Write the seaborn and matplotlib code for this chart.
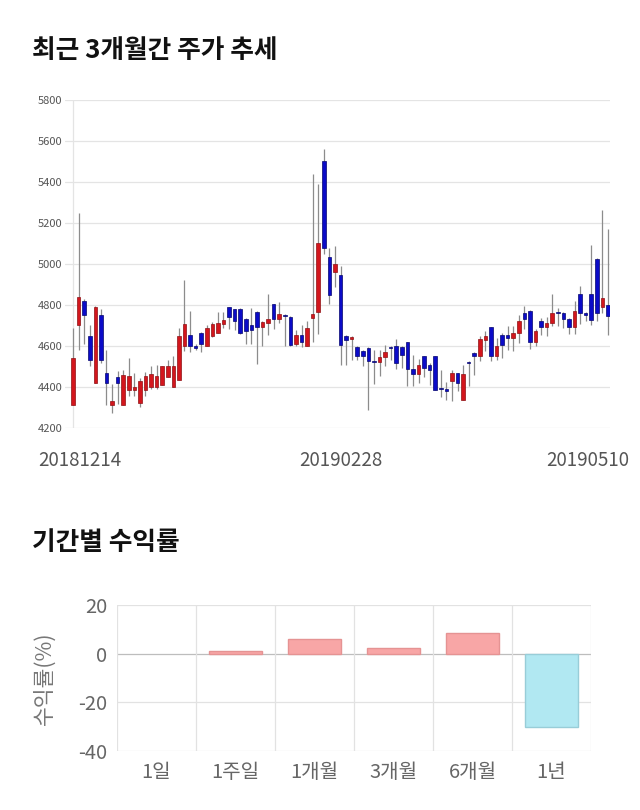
import numpy as np
import pandas as pd
import matplotlib
matplotlib.use("Agg")
import matplotlib.pyplot as plt
import seaborn as sns

# ---------------- data ----------------
opens = [4310, 4700, 4820, 4650, 4420, 4750, 4470, 4310, 4450, 4310,
         4385, 4385, 4320, 4385, 4400, 4400, 4410, 4450, 4400, 4435,
         4600, 4655, 4600, 4665, 4600, 4650, 4665, 4705, 4790, 4780,
         4780, 4730, 4700, 4765, 4695, 4712, 4805, 4730, 4753, 4740,
         4610, 4655, 4600, 4735, 4765, 5500, 5035, 4960, 4945, 4650,
         4632, 4595, 4575, 4592, 4527, 4520, 4548, 4595, 4600, 4595,
         4618, 4488, 4463, 4551, 4505, 4551, 4397, 4392, 4428, 4468,
         4338, 4522, 4566, 4553, 4631, 4694, 4553, 4654, 4654, 4637,
         4663, 4761, 4772, 4618, 4722, 4693, 4712, 4766, 4761, 4732,
         4693, 4854, 4761, 4854, 5024, 4789, 4802]
highs = [4690, 5250, 4830, 4700, 4795, 4780, 4580, 4415, 4480, 4485,
         4540, 4470, 4445, 4475, 4500, 4505, 4500, 4530, 4550, 4690,
         4920, 4770, 4610, 4670, 4700, 4715, 4765, 4765, 4790, 4780,
         4785, 4735, 4785, 4770, 4720, 4855, 4805, 4815, 4755, 4745,
         4680, 4700, 4720, 5440, 5390, 5560, 5080, 5090, 4990, 4655,
         4650, 4600, 4580, 4595, 4580, 4580, 4605, 4600, 4635, 4598,
         4620, 4555, 4535, 4553, 4517, 4553, 4485, 4425, 4485, 4470,
         4505, 4525, 4570, 4647, 4672, 4695, 4640, 4663, 4696, 4696,
         4753, 4793, 4775, 4683, 4737, 4740, 4854, 4785, 4765, 4735,
         4818, 4891, 4765, 5091, 5030, 5262, 5172]
lows = [4310, 4580, 4610, 4500, 4420, 4515, 4310, 4275, 4315, 4310,
        4355, 4355, 4300, 4355, 4390, 4390, 4410, 4450, 4400, 4435,
        4575, 4570, 4580, 4570, 4600, 4645, 4665, 4690, 4685, 4680,
        4660, 4610, 4610, 4510, 4600, 4655, 4685, 4710, 4600, 4600,
        4600, 4595, 4600, 4620, 4660, 5050, 4805, 4890, 4505, 4505,
        4530, 4530, 4500, 4290, 4415, 4455, 4500, 4530, 4490, 4495,
        4405, 4405, 4420, 4450, 4410, 4385, 4350, 4338, 4330, 4380,
        4338, 4405, 4460, 4525, 4574, 4525, 4533, 4541, 4582, 4574,
        4615, 4683, 4585, 4598, 4652, 4647, 4696, 4696, 4688, 4659,
        4659, 4707, 4720, 4704, 4720, 4761, 4655]
closes = [4540, 4840, 4750, 4530, 4790, 4530, 4420, 4330, 4420, 4460,
          4455, 4400, 4430, 4455, 4465, 4455, 4500, 4500, 4500, 4650,
          4705, 4600, 4590, 4610, 4690, 4705, 4710, 4725, 4740, 4720,
          4665, 4675, 4680, 4695, 4715, 4733, 4730, 4755, 4745, 4605,
          4655, 4620, 4686, 4755, 5100, 5080, 4850, 5000, 4605, 4630,
          4642, 4550, 4550, 4527, 4520, 4548, 4571, 4590, 4515, 4558,
          4488, 4463, 4507, 4493, 4483, 4387, 4390, 4379, 4468, 4420,
          4463, 4518, 4553, 4634, 4647, 4553, 4602, 4607, 4640, 4663,
          4724, 4732, 4618, 4675, 4693, 4712, 4761, 4762, 4732, 4693,
          4772, 4761, 4751, 4727, 4761, 4834, 4745]
date_labels = ["20181214", "20190228", "20190510"]
price_ticks = [4200, 4400, 4600, 4800, 5000, 5200, 5400, 5600, 5800]

periods = ["1일", "1주일", "1개월", "3개월", "6개월", "1년"]
returns = [0.0, 1.2, 6.0, 2.3, 8.4, -30.3]
return_ticks = [-40, -20, 0, 20]

# ---------------- style ----------------
sns.set_theme(style="white")
plt.rcParams["font.family"] = ["Noto Sans CJK KR", "DejaVu Sans"]

W, H = 640, 810
fig = plt.figure(figsize=(W / 100, H / 100), dpi=100)

# ---------------- candlestick chart ----------------
ax1 = fig.add_axes([65 / W, 1 - 428 / H, 545 / W, 328 / H])
df = pd.DataFrame({"open": opens, "high": highs, "low": lows, "close": closes})
df["x"] = np.arange(len(df))
df["up"] = df["close"] >= df["open"]
df["bottom"] = df[["open", "close"]].min(axis=1)
df["height"] = (df["close"] - df["open"]).abs().clip(lower=4)

ax1.vlines(df["x"], df["low"], df["high"], color="#8c8c8c", lw=0.9, zorder=2)
upd = df[df["up"]]
dnd = df[~df["up"]]
ax1.bar(upd["x"], upd["height"], bottom=upd["bottom"], width=0.64,
        color="#D3161D", edgecolor="#8e1014", linewidth=0.5, zorder=3)
ax1.bar(dnd["x"], dnd["height"], bottom=dnd["bottom"], width=0.64,
        color="#0B0BC8", edgecolor="#05056e", linewidth=0.5, zorder=3)

ax1.set_ylim(4200, 5800)
ax1.set_xlim(-1.44, len(df) - 1 + 0.36)
ax1.set_yticks(price_ticks)
ax1.set_yticklabels([str(t) for t in price_ticks])
ax1.yaxis.grid(True, color="#e4e4e4", lw=0.9)
ax1.xaxis.grid(False)
ax1.axvline(0, color="#e4e4e4", lw=0.9, zorder=1)
ax1.set_xticks([])
for s in ax1.spines.values():
    s.set_visible(False)
ax1.tick_params(axis="y", length=0, pad=2, labelsize=8, labelcolor="#555555")

tr = matplotlib.transforms.blended_transform_factory(ax1.transData, ax1.transAxes)
ax1.text(1.2, -0.0976, date_labels[0], transform=tr, ha="center", va="center",
         fontsize=13.5, color="#555555")
ax1.text(48.1, -0.0976, date_labels[1], transform=tr, ha="center", va="center",
         fontsize=13.5, color="#555555")
ax1.text((629 - 65) / 545, -0.0976, date_labels[2], transform=ax1.transAxes,
         ha="right", va="center", fontsize=13.5, color="#555555")

fig.text(32 / W, 1 - 50 / H, "최근 3개월간 주가 추세", fontsize=18.5, weight="bold",
         va="center", ha="left", color="#111111")

# ---------------- returns bar chart ----------------
ax2 = fig.add_axes([117 / W, 1 - 751 / H, 474 / W, 146 / H])
rdf = pd.DataFrame({"period": periods, "ret": returns})
pal = ["#F8A6A6" if v >= 0 else "#B1E8F2" for v in returns]
edges = ["#E59393" if v >= 0 else "#98CDD8" for v in returns]
sns.barplot(data=rdf, x="period", y="ret", hue="period", palette=pal,
            legend=False, width=0.68, ax=ax2, zorder=3, saturation=1)
for patch, ec, v in zip(ax2.patches, edges, returns):
    patch.set_edgecolor(ec)
    patch.set_linewidth(1.0 if v != 0 else 0.0)

ax2.set_ylim(-40, 20)
ax2.set_xlim(-0.5, len(periods) - 0.5)
ax2.set_yticks(return_ticks)
ax2.set_yticklabels([str(t) for t in return_ticks])
for t in return_ticks:
    ax2.axhline(t, color="#bdbdbd" if t == 0 else "#e2e2e2", lw=0.9, zorder=1)
for b in np.arange(-0.5, len(periods), 1.0):
    ax2.axvline(b, color="#e2e2e2", lw=0.9, zorder=1)
for s in ax2.spines.values():
    s.set_visible(False)
ax2.set_xlabel("")
ax2.set_ylabel("")
ax2.tick_params(axis="y", length=0, pad=7, labelsize=14.5, labelcolor="#666666")
ax2.tick_params(axis="x", length=0, pad=8, labelsize=14.5, labelcolor="#666666")

fig.text(45 / W, 1 - 678 / H, "수익률(%)", rotation=90, ha="center", va="center",
         fontsize=15.5, color="#777777")
fig.text(32 / W, 1 - 543 / H, "기간별 수익률", fontsize=18.5, weight="bold",
         va="center", ha="left", color="#111111")

fig.savefig("out.png", dpi=100)
